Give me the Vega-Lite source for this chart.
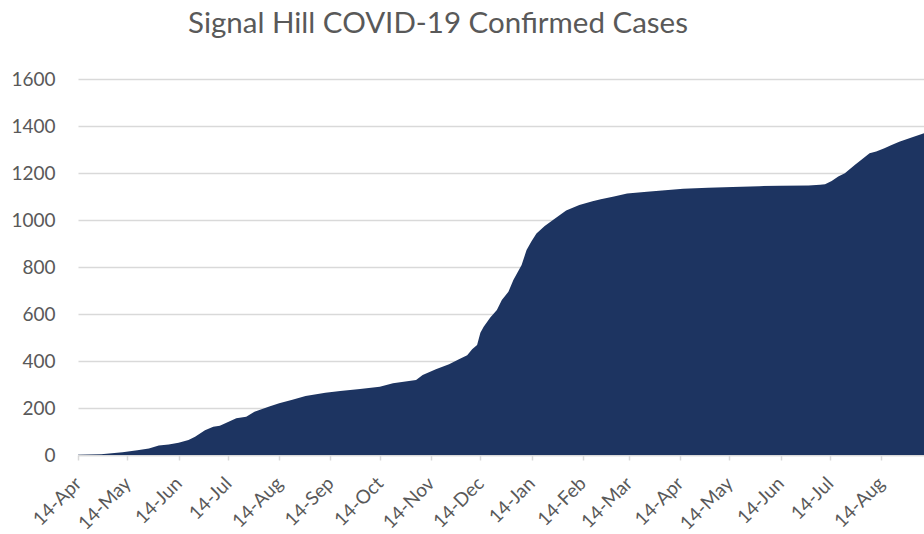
{
  "$schema": "https://vega.github.io/schema/vega-lite/v6.json",
  "autosize": "none",
  "width": 846,
  "height": 376,
  "padding": {"left": 78, "top": 79, "right": 0, "bottom": 79},
  "background": "white",
  "title": {
    "text": "Signal Hill COVID-19 Confirmed Cases",
    "font": "Lato",
    "fontSize": 29.5,
    "fontWeight": "normal",
    "color": "#595959",
    "anchor": "middle",
    "dx": -63,
    "baseline": "alphabetic",
    "offset": 8
  },
  "data": {
    "values": [
      {"date": "2020-04-14T00:00:00", "cases": 1},
      {"date": "2020-04-28T00:00:00", "cases": 3},
      {"date": "2020-05-11T00:00:00", "cases": 12},
      {"date": "2020-05-20T00:00:00", "cases": 20},
      {"date": "2020-05-27T00:00:00", "cases": 28},
      {"date": "2020-06-02T00:00:00", "cases": 40},
      {"date": "2020-06-08T00:00:00", "cases": 45},
      {"date": "2020-06-14T00:00:00", "cases": 52},
      {"date": "2020-06-20T00:00:00", "cases": 64},
      {"date": "2020-06-24T00:00:00", "cases": 78},
      {"date": "2020-06-30T00:00:00", "cases": 105},
      {"date": "2020-07-05T00:00:00", "cases": 120},
      {"date": "2020-07-09T00:00:00", "cases": 125},
      {"date": "2020-07-14T00:00:00", "cases": 140},
      {"date": "2020-07-19T00:00:00", "cases": 156},
      {"date": "2020-07-25T00:00:00", "cases": 163},
      {"date": "2020-07-30T00:00:00", "cases": 184},
      {"date": "2020-08-02T00:00:00", "cases": 191},
      {"date": "2020-08-08T00:00:00", "cases": 206},
      {"date": "2020-08-14T00:00:00", "cases": 220},
      {"date": "2020-08-22T00:00:00", "cases": 235},
      {"date": "2020-08-30T00:00:00", "cases": 251},
      {"date": "2020-09-11T00:00:00", "cases": 265},
      {"date": "2020-09-20T00:00:00", "cases": 272},
      {"date": "2020-10-02T00:00:00", "cases": 281},
      {"date": "2020-10-14T00:00:00", "cases": 290},
      {"date": "2020-10-22T00:00:00", "cases": 305},
      {"date": "2020-11-05T00:00:00", "cases": 319},
      {"date": "2020-11-09T00:00:00", "cases": 340},
      {"date": "2020-11-17T00:00:00", "cases": 365},
      {"date": "2020-11-25T00:00:00", "cases": 386},
      {"date": "2020-12-01T00:00:00", "cases": 407},
      {"date": "2020-12-06T00:00:00", "cases": 425},
      {"date": "2020-12-09T00:00:00", "cases": 450},
      {"date": "2020-12-12T00:00:00", "cases": 468},
      {"date": "2020-12-14T00:00:00", "cases": 520},
      {"date": "2020-12-16T00:00:00", "cases": 546},
      {"date": "2020-12-20T00:00:00", "cases": 585},
      {"date": "2020-12-24T00:00:00", "cases": 617},
      {"date": "2020-12-27T00:00:00", "cases": 660},
      {"date": "2020-12-31T00:00:00", "cases": 695},
      {"date": "2021-01-03T00:00:00", "cases": 745},
      {"date": "2021-01-08T00:00:00", "cases": 809},
      {"date": "2021-01-11T00:00:00", "cases": 872},
      {"date": "2021-01-14T00:00:00", "cases": 910},
      {"date": "2021-01-17T00:00:00", "cases": 943},
      {"date": "2021-01-22T00:00:00", "cases": 975},
      {"date": "2021-01-27T00:00:00", "cases": 1000},
      {"date": "2021-02-04T00:00:00", "cases": 1040},
      {"date": "2021-02-12T00:00:00", "cases": 1064},
      {"date": "2021-02-20T00:00:00", "cases": 1080},
      {"date": "2021-02-25T00:00:00", "cases": 1088},
      {"date": "2021-03-05T00:00:00", "cases": 1100},
      {"date": "2021-03-13T00:00:00", "cases": 1113},
      {"date": "2021-03-25T00:00:00", "cases": 1120},
      {"date": "2021-04-05T00:00:00", "cases": 1127},
      {"date": "2021-04-16T00:00:00", "cases": 1133},
      {"date": "2021-05-01T00:00:00", "cases": 1137},
      {"date": "2021-05-16T00:00:00", "cases": 1140},
      {"date": "2021-06-01T00:00:00", "cases": 1144},
      {"date": "2021-06-14T00:00:00", "cases": 1146},
      {"date": "2021-07-01T00:00:00", "cases": 1147},
      {"date": "2021-07-08T00:00:00", "cases": 1150},
      {"date": "2021-07-11T00:00:00", "cases": 1152},
      {"date": "2021-07-15T00:00:00", "cases": 1166},
      {"date": "2021-07-19T00:00:00", "cases": 1185},
      {"date": "2021-07-23T00:00:00", "cases": 1199},
      {"date": "2021-07-29T00:00:00", "cases": 1234},
      {"date": "2021-08-03T00:00:00", "cases": 1262},
      {"date": "2021-08-07T00:00:00", "cases": 1284},
      {"date": "2021-08-11T00:00:00", "cases": 1292},
      {"date": "2021-08-16T00:00:00", "cases": 1305},
      {"date": "2021-08-20T00:00:00", "cases": 1318},
      {"date": "2021-08-25T00:00:00", "cases": 1333},
      {"date": "2021-09-01T00:00:00", "cases": 1350},
      {"date": "2021-09-09T00:00:00", "cases": 1369}
    ]
  },
  "mark": {"type": "area", "color": "#1D3461", "interpolate": "linear"},
  "encoding": {
    "x": {
      "field": "date",
      "type": "temporal",
      "scale": {"domain": [{"year": 2020, "month": 4, "date": 14}, {"year": 2021, "month": 9, "date": 9}]},
      "axis": {
        "title": null,
        "grid": false,
        "format": "%d-%b",
        "values": [
          {"year": 2020, "month": 4, "date": 14},
          {"year": 2020, "month": 5, "date": 14},
          {"year": 2020, "month": 6, "date": 14},
          {"year": 2020, "month": 7, "date": 14},
          {"year": 2020, "month": 8, "date": 14},
          {"year": 2020, "month": 9, "date": 14},
          {"year": 2020, "month": 10, "date": 14},
          {"year": 2020, "month": 11, "date": 14},
          {"year": 2020, "month": 12, "date": 14},
          {"year": 2021, "month": 1, "date": 14},
          {"year": 2021, "month": 2, "date": 14},
          {"year": 2021, "month": 3, "date": 14},
          {"year": 2021, "month": 4, "date": 14},
          {"year": 2021, "month": 5, "date": 14},
          {"year": 2021, "month": 6, "date": 14},
          {"year": 2021, "month": 7, "date": 14},
          {"year": 2021, "month": 8, "date": 14}
        ],
        "labelAngle": -45,
        "labelAlign": "right",
        "labelBaseline": "middle",
        "labelPadding": 20,
        "labelFont": "Lato",
        "labelFontSize": 19,
        "labelColor": "#595959",
        "labelOverlap": false,
        "labelFlush": false,
        "domainColor": "#D9D9D9",
        "domainWidth": 1.5,
        "tickColor": "#D9D9D9",
        "tickSize": 5,
        "tickWidth": 1.5
      }
    },
    "y": {
      "field": "cases",
      "type": "quantitative",
      "scale": {"domain": [0, 1600], "nice": false},
      "axis": {
        "title": null,
        "format": "d",
        "values": [0, 200, 400, 600, 800, 1000, 1200, 1400, 1600],
        "grid": true,
        "gridColor": "#D9D9D9",
        "gridWidth": 1.5,
        "domain": false,
        "ticks": false,
        "labelPadding": 23,
        "labelFont": "Lato",
        "labelFontSize": 19,
        "labelColor": "#595959"
      }
    }
  },
  "config": {"view": {"stroke": null}}
}
